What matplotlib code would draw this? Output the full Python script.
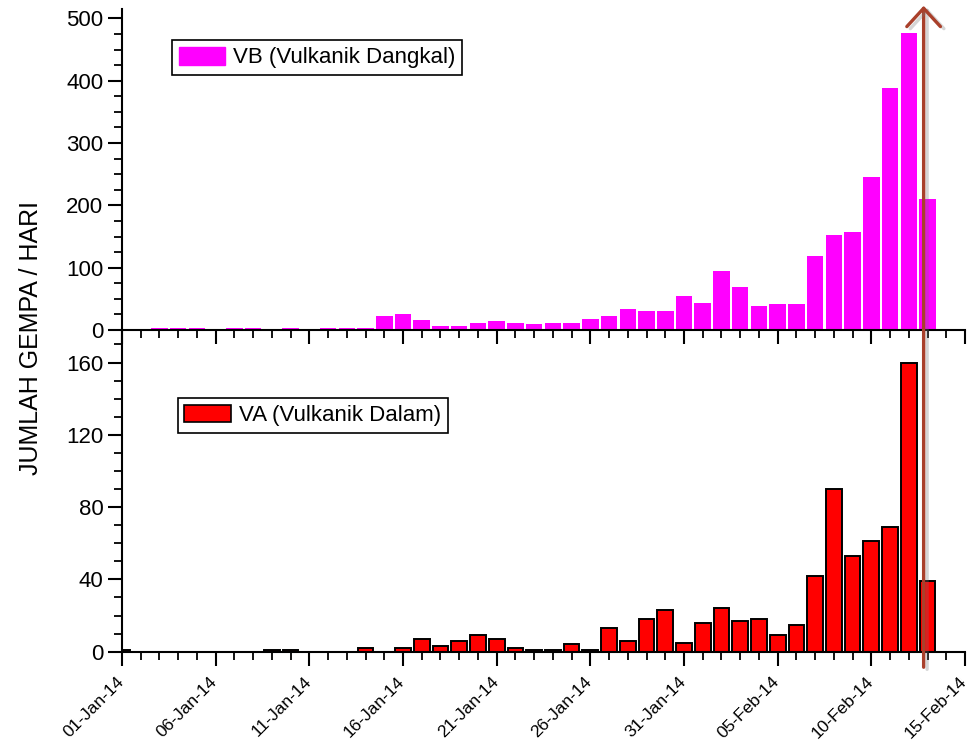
import numpy as np
import matplotlib
matplotlib.use("Agg")
import matplotlib.pyplot as plt
import matplotlib.dates as mdates
import matplotlib.transforms as mtransforms
from matplotlib.patches import FancyArrowPatch, Patch
from matplotlib.ticker import MultipleLocator, FixedLocator
import matplotlib.patheffects as pe

plt.rcParams['font.family'] = ['Liberation Sans', 'DejaVu Sans']

# Daily earthquake counts, 01-Jan-2014 .. 13-Feb-2014
days = np.arange('2014-01-01', '2014-02-14', dtype='datetime64[D]')

vb_counts = [1, 1, 3, 3, 3, 0, 4, 3, 1, 3,
             1, 3, 4, 4, 22, 25, 16, 7, 7, 12,
             14, 12, 10, 12, 12, 17, 22, 33, 31, 31,
             54, 44, 94, 69, 38, 41, 41, 118, 153, 158,
             245, 388, 477, 210]

va_counts = [1, 0, 0, 0, 0, 0, 0, 0, 1, 1,
             0, 0, 0, 2, 0, 2, 7, 3, 6, 9,
             7, 2, 1, 1, 4, 1, 13, 6, 18, 23,
             5, 16, 24, 17, 18, 9, 15, 42, 90, 53,
             61, 69, 160, 39]

vb_label = 'VB (Vulkanik Dangkal)'
va_label = 'VA (Vulkanik Dalam)'
y_title = 'JUMLAH GEMPA / HARI'

x_start = np.datetime64('2014-01-01')
x_end = np.datetime64('2014-02-15')
major_dates = np.arange('2014-01-01', '2014-02-16', 5, dtype='datetime64[D]')
minor_dates = np.arange('2014-01-01', '2014-02-16', 1, dtype='datetime64[D]')
marker_time = np.datetime64('2014-02-12T19:00')

W, H = 969, 749
fig = plt.figure(figsize=(W / 100, H / 100), dpi=100)

left, right = 122 / W, 965 / W
y_mid = 1 - 330 / H
ax1 = fig.add_axes([left, y_mid, right - left, (1 - 9 / H) - y_mid])
ax2 = fig.add_axes([left, 1 - 651.7 / H, right - left, y_mid - (1 - 651.7 / H)],
                   sharex=ax1)

x = mdates.date2num(days.astype('datetime64[s]').astype(object))

ax1.bar(x, vb_counts, width=0.88, color='#FF00FF', edgecolor='none',
        zorder=2)
ax2.bar(x, va_counts, width=0.84, color='#FF0000', edgecolor='black',
        linewidth=1.4, zorder=2)

xl = mdates.date2num([x_start.astype(object), x_end.astype(object)])
ax1.set_xlim(xl[0], xl[1])
ax1.set_ylim(0, 515)
ax2.set_ylim(0, 178)

maj = mdates.date2num(major_dates.astype(object))
mnr = mdates.date2num(minor_dates.astype(object))
for ax in (ax1, ax2):
    ax.xaxis.set_major_locator(FixedLocator(maj))
    ax.xaxis.set_minor_locator(FixedLocator(mnr))
    for s in ('top', 'right'):
        ax.spines[s].set_visible(False)
    for s in ('left', 'bottom'):
        ax.spines[s].set_linewidth(1.5)
    ax.tick_params(which='major', direction='out', length=10, width=1.5,
                   labelsize=16)
    ax.tick_params(which='minor', direction='out', length=6, width=1.3)
    ax.patch.set_alpha(0)

ax1.yaxis.set_major_locator(MultipleLocator(100))
ax1.yaxis.set_minor_locator(MultipleLocator(25))
ax2.yaxis.set_major_locator(MultipleLocator(40))
ax2.yaxis.set_minor_locator(MultipleLocator(10))

ax1.tick_params(axis='x', labelbottom=False)
ax2.tick_params(axis='x', which='major', pad=6)
ax2.xaxis.set_major_formatter(mdates.DateFormatter('%d-%b-%y'))
shift = mtransforms.ScaledTranslation(-6 / 100, 0, fig.dpi_scale_trans)
for lab in ax2.get_xticklabels():
    lab.set_rotation(45)
    lab.set_ha('right')
    lab.set_rotation_mode('anchor')
    lab.set_fontsize(12.5)
    lab.set_transform(lab.get_transform() + shift)

leg_kw = dict(loc='upper left', frameon=True, fancybox=False, framealpha=1,
              edgecolor='black', fontsize=16, handlelength=2.1,
              handleheight=0.85, handletextpad=0.35, borderaxespad=0,
              borderpad=0.3)
l1 = ax1.legend(handles=[Patch(facecolor='#FF00FF', edgecolor='#FF00FF',
                               label=vb_label)],
                bbox_to_anchor=(0.0593, 0.903), **leg_kw)
l1.get_frame().set_linewidth(1.2)
l2 = ax2.legend(handles=[Patch(facecolor='#FF0000', edgecolor='black',
                               linewidth=1.2, label=va_label)],
                bbox_to_anchor=(0.066, 0.789), **leg_kw)
l2.get_frame().set_linewidth(1.2)

fig.text(31 / W, 1 - 338 / H, y_title, rotation=90, ha='center',
         va='center', fontsize=18)

# Vertical marker arrow spanning both panels
trans = mtransforms.blended_transform_factory(ax2.transData, fig.transFigure)
xm = mdates.date2num(marker_time.astype('datetime64[s]').astype(object))
arrow = FancyArrowPatch((xm, 1 - 670 / H), (xm, 1 - 3 / H), transform=trans,
                        arrowstyle='->,head_length=0.6,head_width=0.55',
                        mutation_scale=22, color='#A9402B', linewidth=2.4,
                        zorder=10, clip_on=False)
arrow.set_path_effects([pe.SimpleLineShadow(offset=(2.5, -1.5),
                                            shadow_color='#777777',
                                            alpha=0.3),
                        pe.Normal()])
fig.add_artist(arrow)

fig.savefig('out.png', dpi=100)
